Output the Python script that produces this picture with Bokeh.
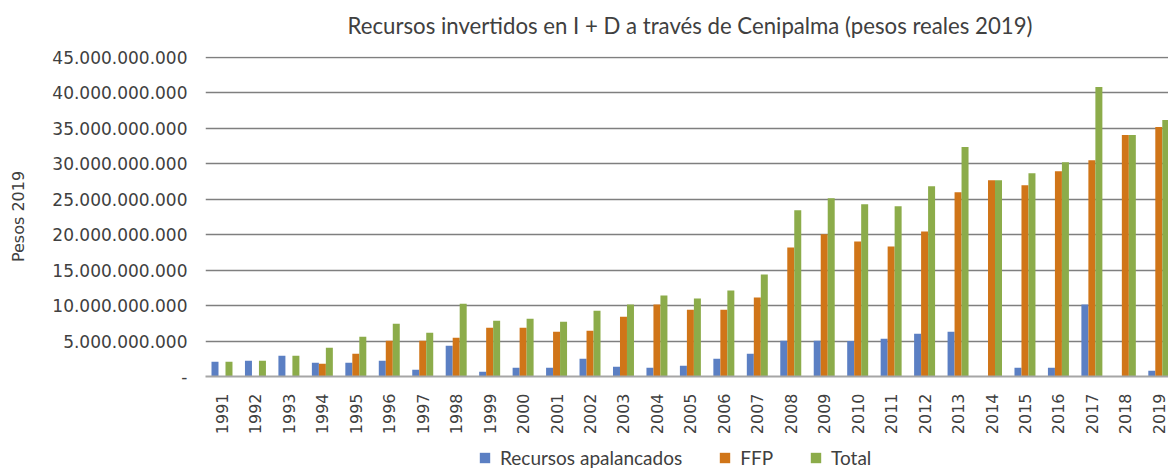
from bokeh.plotting import figure
from bokeh.layouts import column
from bokeh.models import Range1d, FixedTicker, Legend, LegendItem, ColumnDataSource, Label
from bokeh.embed import file_html
from bokeh.resources import INLINE

title_text = "Recursos invertidos en I + D a través de Cenipalma (pesos reales 2019)"
years = [str(y) for y in range(1991, 2020)]
# values in billions of pesos (2019)
apalancados = [2.08, 2.22, 2.92, 1.93, 1.93, 2.22, 0.94, 4.34, 0.66, 1.23,
               1.23, 2.50, 1.37, 1.23, 1.51, 2.50, 3.21, 5.05, 5.05, 5.00,
               5.33, 6.04, 6.32, 0.0, 1.23, 1.23, 10.14, 0.0, 0.80]
ffp = [0.0, 0.0, 0.0, 1.79, 3.21, 5.05, 5.05, 5.47, 6.89, 6.89,
       6.32, 6.46, 8.44, 10.14, 9.43, 9.43, 11.13, 18.21, 20.05, 19.06,
       18.35, 20.47, 25.99, 27.69, 26.98, 28.96, 30.52, 34.06, 35.19]
total = [2.08, 2.22, 2.92, 4.06, 5.61, 7.45, 6.18, 10.28, 7.88, 8.16,
         7.74, 9.29, 10.14, 11.42, 10.99, 12.12, 14.39, 23.44, 25.14, 24.29,
         24.01, 26.84, 32.36, 27.69, 28.68, 30.24, 40.85, 34.06, 36.18]
series_names = ["Recursos apalancados", "FFP", "Total"]
colors = ["#5b7fc3", "#d07518", "#8cac4a"]
y_ticks = [i * 5e9 for i in range(10)]
y_tick_labels = ["-", "5.000.000.000", "10.000.000.000", "15.000.000.000",
                 "20.000.000.000", "25.000.000.000", "30.000.000.000",
                 "35.000.000.000", "40.000.000.000", "45.000.000.000"]

idx = list(range(len(years)))
bw = 0.209

# title strip
pt = figure(width=1168, height=46, output_backend="svg", toolbar_location=None,
            x_range=Range1d(0, 1), y_range=Range1d(0, 1),
            x_axis_type=None, y_axis_type=None,
            min_border_left=0, min_border_right=0, min_border_top=0,
            min_border_bottom=0)
pt.outline_line_color = None
pt.grid.visible = False
pt.add_layout(Label(x=484.5, y=21, x_units="screen", y_units="screen", text=title_text,
                    text_align="center", text_baseline="alphabetic",
                    text_font="Lato", text_font_size="22.2px", text_color="#404040"))

# main chart
p = figure(width=1168, height=400, output_backend="svg", toolbar_location=None,
           x_range=Range1d(-0.493, 28.29), y_range=Range1d(0, 45.141e9),
           min_border_left=205, min_border_right=0, min_border_top=10,
           min_border_bottom=70)
p.outline_line_color = None
p.background_fill_color = "white"
p.border_fill_color = "white"

for k, (vals, col) in enumerate(zip([apalancados, ffp, total], colors)):
    src = ColumnDataSource(dict(x=[i + (k - 1) * bw for i in idx],
                                top=[v * 1e9 for v in vals]))
    p.vbar(x="x", top="top", width=bw, bottom=0, source=src,
           fill_color=col, line_color=None)

p.xgrid.grid_line_color = None
p.ygrid.ticker = FixedTicker(ticks=y_ticks[1:])
p.ygrid.grid_line_color = "#7f7f7f"
p.ygrid.grid_line_width = 1.6

p.yaxis.ticker = FixedTicker(ticks=y_ticks)
p.yaxis.major_label_overrides = {t: l for t, l in zip(y_ticks, y_tick_labels)}
p.yaxis.axis_line_color = None
p.yaxis.major_tick_line_color = None
p.yaxis.minor_tick_line_color = None
p.yaxis.major_label_standoff = 12
p.yaxis.major_label_text_font = "DejaVu Sans"
p.yaxis.major_label_text_font_size = "17px"
p.yaxis.major_label_text_color = "#404040"
p.yaxis.axis_label = "Pesos 2019"
p.yaxis.axis_label_text_font = "DejaVu Sans"
p.yaxis.axis_label_text_font_size = "16px"
p.yaxis.axis_label_text_font_style = "normal"
p.yaxis.axis_label_text_color = "#404040"
p.yaxis.axis_label_standoff = 21

p.xaxis.ticker = FixedTicker(ticks=idx)
p.xaxis.major_label_overrides = {i: y for i, y in zip(idx, years)}
p.xaxis.major_label_orientation = 1.5707963
p.xaxis.axis_line_color = "#a6a6a6"
p.xaxis.axis_line_width = 2
p.xaxis.major_tick_line_color = None
p.xaxis.minor_tick_line_color = None
p.xaxis.major_label_standoff = 11
p.xaxis.major_label_text_font = "DejaVu Sans"
p.xaxis.major_label_text_font_size = "16px"
p.xaxis.major_label_text_color = "#404040"

# legend strip below the chart
pl = figure(width=1168, height=24, output_backend="svg", toolbar_location=None,
            x_range=Range1d(0, 1), y_range=Range1d(0, 1),
            x_axis_type=None, y_axis_type=None,
            min_border_left=0, min_border_right=0, min_border_top=0,
            min_border_bottom=0)
pl.outline_line_color = None
pl.grid.visible = False
legend_renderers = [pl.vbar(x=[0], top=[0], bottom=[0], width=0.1,
                            fill_color=c, line_color=None)
                    for c in colors]
legend = Legend(items=[LegendItem(label=n, renderers=[r])
                       for n, r in zip(series_names, legend_renderers)],
                orientation="horizontal", location=(273, 1),
                padding=0, margin=0, spacing=36, label_standoff=9,
                glyph_width=13, glyph_height=13, label_height=13,
                label_text_font="Lato", label_text_font_size="19px",
                label_text_color="#404040", border_line_color=None,
                background_fill_alpha=0)
pl.add_layout(legend, "center")

layout = column(pt, p, pl, spacing=0)
open("out.html", "w").write(file_html(layout, INLINE))
